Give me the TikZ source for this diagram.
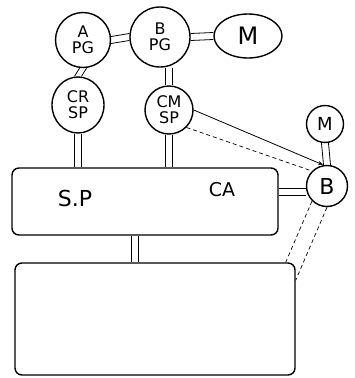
\documentclass[tikz,border=0pt]{standalone}
\usepackage{fontspec}
\setmainfont{DejaVu Sans}
\usetikzlibrary{shapes.geometric,arrows.meta,calc}
\begin{document}
\begin{tikzpicture}[x=1pt,y=-1pt,
  ring/.style={draw, circle, line width=1.4pt, inner sep=0pt, align=center, font=\fontsize{16}{16}\selectfont},
  oval/.style={draw, ellipse, line width=1.4pt, inner sep=0pt, align=center, font=\fontsize{16}{16}\selectfont},
  box/.style={draw, rectangle, rounded corners=7pt, line width=1.4pt, inner sep=0pt},
  rail/.style={line width=0.8pt},
  lft/.style={rail, transform canvas={xshift=-3.5pt}},
  rgt/.style={rail, transform canvas={xshift=3.5pt}},
  upr/.style={rail, transform canvas={yshift=3.5pt}},
  lwr/.style={rail, transform canvas={yshift=-3.5pt}},
  thinline/.style={line width=0.8pt},
  dashline/.style={line width=0.7pt, dash pattern=on 4pt off 3pt}
]
\useasboundingbox (0,0) rectangle (355,378);
% nodes
\node[ring, minimum size=55pt] (a) at (83,40) {A\\PG};
\node[ring, minimum size=60pt] (b) at (160,37) {B\\PG};
\node[oval, minimum width=68pt, minimum height=44pt, font=\fontsize{24}{24}\selectfont] (m1) at (248,36) {M};
\node[oval, minimum width=52pt, minimum height=56pt] (cr) at (78,105) {CR\\SP};
\node[ring, minimum size=48pt] (cm) at (169,110) {CM\\SP};
\node[ring, minimum size=37pt, font=\fontsize{18}{18}\selectfont] (m2) at (325,124) {M};
\node[ring, minimum size=41pt, font=\fontsize{22}{22}\selectfont] (bb) at (327,186) {B};
\node[box, minimum width=266pt, minimum height=67pt] (sp) at (145,201.5) {};
\node[font=\fontsize{22}{22}\selectfont] (spt) at (75,198) {S.P};
\node[font=\fontsize{19}{19}\selectfont] (ca) at (222,190) {CA};
\node[box, minimum width=280pt, minimum height=112pt] (bot) at (155,319) {};
% horizontal double connectors
\foreach \s in {upr,lwr} {
  \draw[\s] (a.east) -- (b.west);
  \draw[\s] (b.east) -- (m1.west);
  \draw[\s] ($(bb.west)+(0,6)$) -- ($(bb.west -| sp.east)+(0,6)$);
}
% vertical double connectors
\foreach \s in {lft,rgt} {
  \draw[\s] (a.south) -- (cr.north);
  \draw[\s] (cm.north |- b.south) -- (cm.north);
  \draw[\s] (cr.south) -- (cr.south |- sp.north);
  \draw[\s] (cm.south) -- (cm.south |- sp.north);
  \draw[\s] (m2.south) -- (bb.north);
  \draw[\s] ($(sp.south)+(-10,0)$) -- ($(bot.north)+(-20,0)$);
}
% single and dashed connectors
\draw[thinline, -{Stealth[length=5pt]}] (cm.east) -- ($(bb.north)+(-4,0)$);
\draw[dashline] (cm.south east) -- (bb.north west);
\draw[dashline] (bb.south west) -- ($(bot.north east)+(-10,0)$);
\draw[dashline] (bb.south) -- ($(bot.north east)+(0,18)$);
\end{tikzpicture}
\end{document}
